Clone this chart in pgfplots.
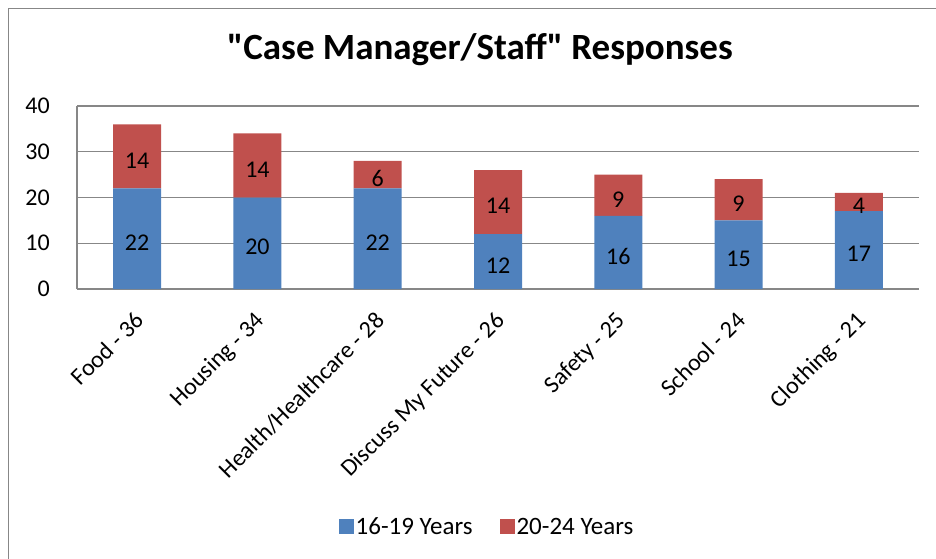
\documentclass[border=0pt]{standalone}
\usepackage{fontspec}
\setmainfont{Carlito}[Ligatures=TeXOff]
\usepackage{pgfplots}
\pgfplotsset{compat=1.18}
\usepackage{pgfplotstable}
\definecolor{cblue}{HTML}{4F81BD}
\definecolor{cred}{HTML}{C0504D}
\definecolor{cgrid}{HTML}{878787}
\pgfplotstableread{
x a b
0 22 14
1 20 14
2 22 6
3 12 14
4 16 9
5 15 9
6 17 4
}\datatable
\begin{document}
\begin{tikzpicture}[x=1pt,y=1pt]
\useasboundingbox (0,0) rectangle (936,558);
\clip (0,0) rectangle (936,558);
\draw[cgrid, line width=1.3pt] (8.5,549.5) rectangle (960,-20);
\node[font=\fontsize{37}{44}\selectfont\bfseries] at (480,508) {"Case Manager/Staff" Responses};
\begin{axis}[
  at={(77pt,269pt)}, anchor=south west,
  scale only axis, width=842pt, height=183pt,
  xmin=-0.5, xmax=6.5, ymin=0, ymax=40,
  ybar stacked, bar width=48pt,
  xtick={-0.03,0.97,1.97,2.97,3.97,4.97,5.97},
  xticklabels={Food - 36, Housing - 34, Health/Healthcare - 28, Discuss My Future - 26, Safety - 25, School - 24, Clothing - 21},
  ytick={0,10,...,40},
  ymajorgrids, major grid style={cgrid, line width=1.3pt},
  axis x line*=bottom, axis y line*=left,
  axis line style={cgrid, line width=1.3pt},
  major tick length=0pt,
  tick label style={font=\fontsize{24}{28}\selectfont, text=black},
  /pgf/number format/assume math mode=true,
  yticklabel style={inner sep=0pt, xshift=-27pt},
  xticklabel shift=21pt,
  xticklabel style={inner sep=0pt, rotate=45, anchor=north east},
  legend style={at={(0.487,-1.30)}, anchor=center, draw=none, legend columns=2,
    font=\fontsize{25}{30}\selectfont,
    /tikz/every even column/.append style={column sep=25pt}},
  legend image code/.code={\fill[#1] (0pt,-7.5pt) rectangle (15pt,7.5pt);},
  every node near coord/.append style={font=\fontsize{24}{28}\selectfont, text=black, anchor=center, yshift=-4pt},
]
\addplot[fill=cblue, draw=none,
  visualization depends on={\thisrow{a}\as\val},
  nodes near coords={\pgfmathprintnumber{\val}}]
  table[x=x,y=a]{\datatable};
\addplot[fill=cred, draw=none,
  visualization depends on={\thisrow{b}\as\val},
  nodes near coords={\pgfmathprintnumber{\val}}]
  table[x=x,y=b]{\datatable};
\legend{16-19 Years, 20-24 Years}
\end{axis}
\end{tikzpicture}
\end{document}
